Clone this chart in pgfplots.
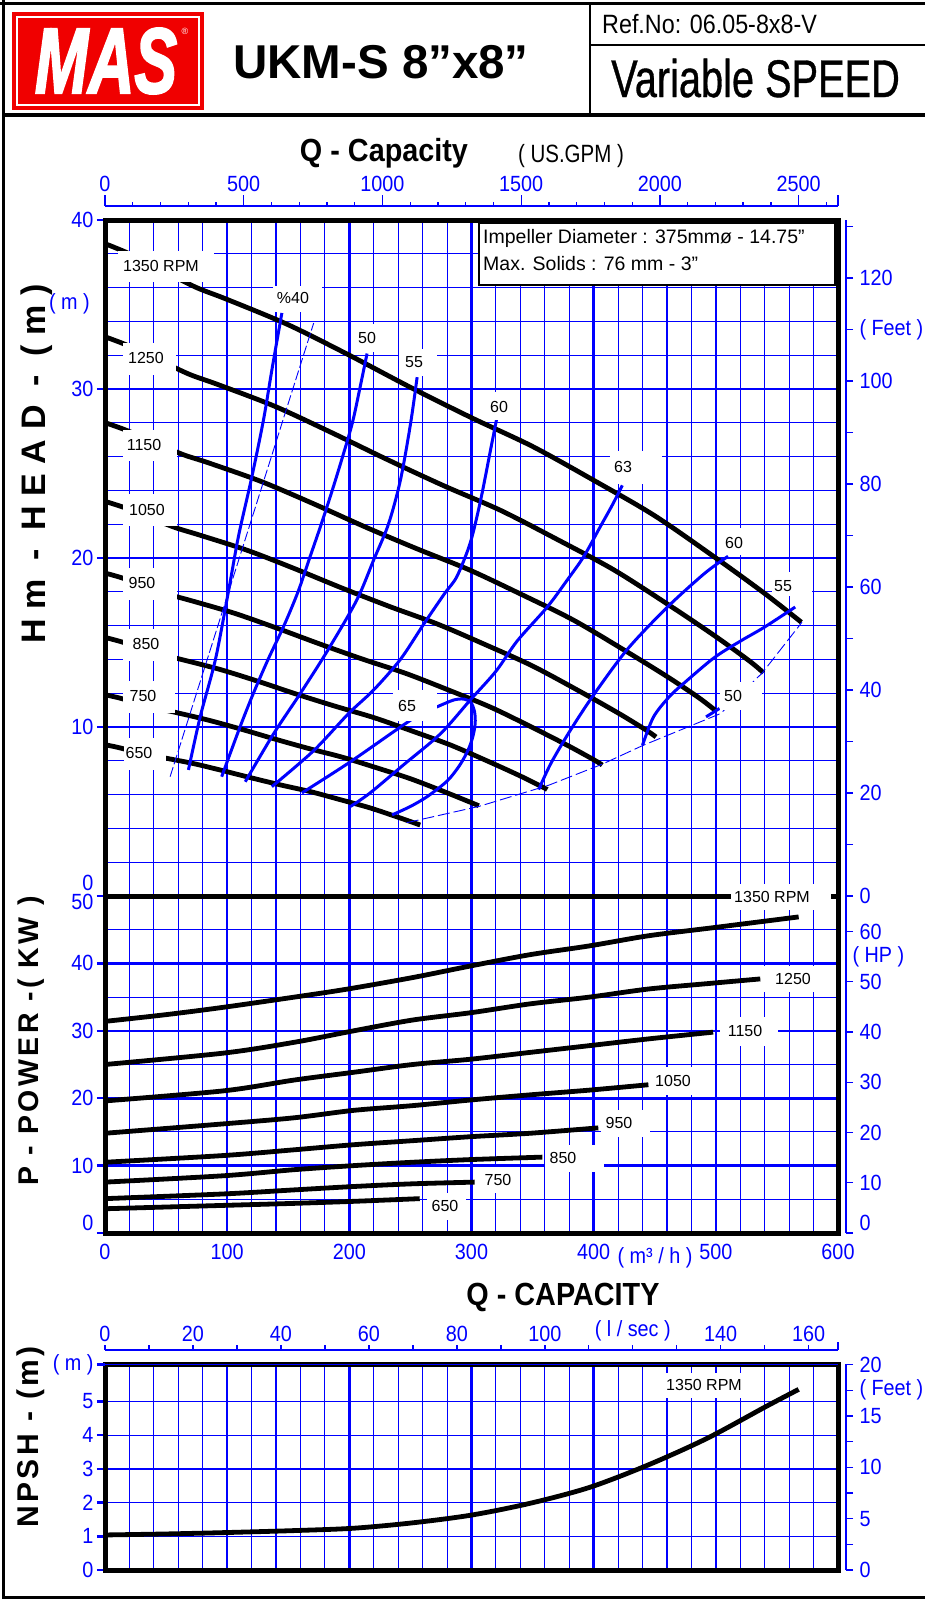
\documentclass[border=0pt]{standalone}
\usepackage{pgfplots}
\pgfplotsset{compat=1.18}
\usepackage{fontspec}
\setmainfont{Liberation Sans}
\newfontfamily\narrowfont[FakeStretch=0.82]{Liberation Sans}
\newfontfamily\tickfamily[FakeStretch=0.9]{Liberation Sans}
\newfontfamily\titlefamily[FakeStretch=0.9]{Liberation Sans}
\newfontfamily\spacedfamily[LetterSpace=12]{Liberation Sans}
\newfontfamily\widefamily[LetterSpace=28]{Liberation Sans}
\newfontfamily\logofont[FakeBold=2.5]{Liberation Sans}
\newfontfamily\heavyfont[FakeBold=0.8]{Liberation Sans}
\definecolor{gb}{RGB}{0,0,255}
\definecolor{logored}{RGB}{240,0,0}
\newcommand{\tf}{\tickfamily\fontsize{22}{24}\selectfont}
\newcommand{\lf}{\fontsize{16}{18}\selectfont}
\newcommand{\up}[2]{\raisebox{#1}[\height][\depth]{#2}}

\pgfplotsset{
  frame/.style={
    scale only axis, width=733pt, xmin=0, xmax=600, clip=false,
    xtick={0,100,...,600}, minor x tick num=4,
    xtick style={draw=none},
    grid=both,
    major x grid style={gb, line width=2.6pt},
    minor x grid style={gb, line width=1.1pt},
    major y grid style={gb, line width=2.6pt},
    minor y grid style={gb, line width=1.1pt},
    tick align=outside, ytick pos=left,
    major tick length=8pt, minor tick length=0pt,
    ytick style={gb, line width=2.4pt},
    axis line style={black, line width=5pt},
    ticklabel style={gb, font=\tf},
  },
  side/.style={
    scale only axis, width=20pt, clip=false, hide x axis,
    axis y line*=right, xmin=0, xmax=1,
    tick align=outside, major tick length=7pt, minor tick length=7pt,
    ytick style={gb, line width=1.4pt},
    axis line style={gb, line width=1.8pt},
    yticklabel style={gb, font=\tf, xshift=3pt},
  },
  topscale/.style={
    scale only axis, width=733pt, height=10pt, ymin=0, ymax=1, clip=false,
    hide y axis, axis x line*=top,
    tick align=outside,
    xtick style={gb, line width=1.4pt},
    axis line style={gb, line width=1.8pt},
    xticklabel style={gb, font=\tf},
  },
  hc/.style={black, line width=4.8pt, smooth},
  ec/.style={gb, line width=3pt, smooth},
  pc/.style={black, line width=4.8pt, smooth},
}

\begin{document}
\begin{tikzpicture}
\path[use as bounding box] (0pt,0pt) rectangle (925pt,-1599pt);
\fill[white] (0pt,0pt) rectangle (925pt,-1599pt);

% ---------- US GPM scale ----------
\begin{axis}[topscale, at={(105pt,-206pt)}, anchor=north west,
  xmin=0, xmax=2641.72,
  xtick={0,500,...,2500}, xticklabels={0,500,1000,1500,2000,2500},
  minor xtick={100,200,...,2600},
  extra x ticks={2641.72}, extra x tick labels={},
  major tick length=11pt, minor tick length=4pt]
\end{axis}

% ---------- HEAD ----------
\begin{axis}[frame, at={(105pt,-896pt)}, anchor=south west, height=676pt,
  ymin=0, ymax=40, ytick={0,10,...,40}, minor y tick num=4,
  yticklabels={\up{13pt}{0},10,20,30,40}, xticklabels={}]
\addplot[hc] coordinates {(0,38.6) (20,38.0) (50,36.9) (75,36.0) (100,35.3) (150,33.8) (200,32.0) (250,30.1) (300,28.3) (350,26.6) (400,24.6) (450,22.5) (500,20.0) (540,17.9) (570,16.2)};
\addplot[hc] coordinates {(0,33.09) (18.5,32.58) (46.3,31.64) (69.4,30.86) (92.6,30.26) (138.9,28.98) (185.2,27.43) (231.5,25.81) (277.8,24.26) (324.1,22.81) (370.4,21.09) (416.7,19.29) (463.0,17.15) (500.0,15.35) (527.8,13.89) (539,13.21)};
\addplot[hc] coordinates {(0,28.01) (17.04,27.57) (42.59,26.78) (63.89,26.12) (85.19,25.62) (127.78,24.53) (170.37,23.22) (212.96,21.84) (255.56,20.54) (298.15,19.30) (340.74,17.85) (383.33,16.33) (425.93,14.51) (460.0,12.99) (485.56,11.76) (500,10.96)};
\addplot[hc] coordinates {(0,23.35) (15.56,22.99) (38.89,22.32) (58.33,21.78) (77.78,21.35) (116.67,20.45) (155.56,19.36) (194.44,18.21) (233.33,17.12) (272.22,16.09) (311.11,14.88) (350.0,13.61) (388.89,12.10) (420.0,10.83) (443.33,9.80) (451,9.41)};
\addplot[hc] coordinates {(0,19.11) (14.07,18.82) (35.19,18.27) (52.78,17.83) (70.37,17.48) (105.56,16.74) (140.74,15.85) (175.93,14.91) (211.11,14.01) (246.30,13.17) (281.48,12.18) (316.67,11.14) (351.85,9.90) (380.0,8.86) (401.11,8.02) (407,7.75)};
\addplot[hc] coordinates {(0,15.30) (12.59,15.06) (31.48,14.63) (47.22,14.27) (62.96,13.99) (94.44,13.40) (125.93,12.69) (157.41,11.93) (188.89,11.22) (220.37,10.55) (251.85,9.75) (283.33,8.92) (314.81,7.93) (340.0,7.10) (358.89,6.42) (362,6.30)};
\addplot[hc] coordinates {(0,11.91) (11.11,11.73) (27.78,11.39) (41.67,11.11) (55.56,10.90) (83.33,10.43) (111.11,9.88) (138.89,9.29) (166.67,8.73) (194.44,8.21) (222.22,7.59) (250.0,6.94) (277.78,6.17) (300.0,5.52) (306,5.34)};
\addplot[hc] coordinates {(0,8.95) (9.63,8.81) (24.07,8.55) (36.11,8.35) (48.15,8.18) (72.22,7.84) (96.30,7.42) (120.37,6.98) (144.44,6.56) (168.52,6.17) (192.59,5.70) (216.67,5.22) (240.74,4.64) (258,4.20)};
% efficiency curves
\addplot[ec] coordinates {(68.3,7.46) (77.9,10.6) (90.4,14.0) (101,18.0) (109.3,21.3) (120.2,24.8) (129.8,28.2) (137,31.3) (144.8,34.5)};
\addplot[ec] coordinates {(95.5,7.06) (110.5,10) (121.5,12) (133.5,14) (146.5,16) (158,18) (167.5,20) (177,22) (186,24) (194.5,26) (202.5,28) (208.5,30) (214.5,32.1)};
\addplot[ec] coordinates {(114.8,6.76) (138,9.6) (160,12.0) (182,14.5) (206,17.5) (220,19.9) (232,22.0) (241.8,24.6) (250,27.9) (255.5,30.7)};
\addplot[ec] coordinates {(136.6,6.47) (170.8,8.6) (199.4,10.8) (220,12.2) (241.8,14.0) (261,16.1) (278,17.9) (288,18.9) (299,20.9) (307.4,23.4) (315.6,26.4) (320.5,28.2)};
\addplot[ec] coordinates {(201,5.3) (217,6.1) (245,7.8) (274.6,9.6) (299,11.6) (320,13.3) (337.5,15.1) (362,17.1) (378.4,18.7) (392,20.1) (405,21.8) (415,23.1) (423.5,24.3)};
\addplot[ec, tension=0.5] coordinates {(161.2,6.1) (200,7.9) (241.8,10.0) (258,10.75) (272,11.2) (285.5,11.6) (294,11.65) (299.5,11.45) (302.5,10.9) (303,10.2) (301,9.4) (297,8.6) (290,7.7) (280,6.8) (263.7,5.88) (250,5.3) (235,4.8)};
\addplot[ec] coordinates {(355,6.3) (365,7.85) (380,9.7) (399,11.8) (427.6,14.6) (460.4,17.1) (487.7,18.9) (500,19.6) (510,20.1)};
\addplot[ec] coordinates {(440,8.93) (449,10.6) (462,11.8) (474,12.6) (498.6,14.1) (520.5,15.1) (539.6,15.9) (565,17.1)};
\addplot[gb, line width=3pt] coordinates {(492,10.6) (503,11.1)};
\addplot[gb, line width=0.9pt, dash pattern=on 10pt off 3pt] coordinates {(53.3,7.06) (170.8,33.9)};
\addplot[gb, line width=0.9pt, dash pattern=on 12pt off 4pt] coordinates {(247,4.34) (306,5.3) (363,6.55) (407,7.8) (440,8.9) (504,10.8) (538,13.2) (570.5,16.2)};
\end{axis}

% feet scale (head)
\begin{axis}[side, at={(846pt,-896pt)}, anchor=south east, height=676pt,
  ymin=0, ymax=131.234, ytick={0,10,...,130},
  yticklabels={0,,20,,40,,60,,80,,100,( Feet ),120,}]
\end{axis}

% ---------- POWER ----------
\begin{axis}[frame, at={(105pt,-1233pt)}, anchor=south west, height=337pt,
  ymin=0, ymax=50, ytick={0,10,...,50}, minor y tick num=1,
  yticklabels={\up{10pt}{0},10,20,30,40,\up{-6pt}{50}},
  xticklabels={0,100,200,300,400,500,600}]
\addplot[pc] coordinates {(0,31.4) (50,32.4) (97.4,33.5) (155,35.0) (198.7,36.2) (251.8,37.9) (300,39.65) (348,41.3) (396.5,42.6) (444.8,44.1) (497.8,45.3) (567.8,46.9)};
\addplot[pc] coordinates {(0,25.0) (97.4,26.7) (155,28.3) (203.6,30.0) (251.8,31.6) (300,32.7) (348,34.0) (396.5,35.0) (444.8,36.2) (493,37.0) (536.4,37.7)};
\addplot[pc] coordinates {(0,19.6) (97.4,21.1) (155,22.7) (203.6,23.85) (251.8,25.0) (300,25.8) (348,26.8) (396.5,27.8) (444.8,28.8) (497.8,29.8)};
\addplot[pc] coordinates {(0,14.8) (97.4,16.2) (155,17.1) (203.6,18.2) (251.8,18.9) (300,19.75) (348,20.5) (396.5,21.2) (444.8,22.0)};
\addplot[pc] coordinates {(0,10.5) (97.4,11.5) (155,12.35) (203.6,13.1) (251.8,13.7) (300,14.3) (348,14.8) (403.8,15.6)};
\addplot[pc] coordinates {(0,7.55) (97.4,8.5) (155,9.4) (203.6,10.0) (251.8,10.5) (300,10.9) (358,11.26)};
\addplot[pc] coordinates {(0,5.1) (97.4,5.8) (155,6.4) (203.6,6.9) (251.8,7.3) (302.5,7.55)};
\addplot[pc] coordinates {(0,3.6) (97.4,4.1) (155,4.4) (203.6,4.7) (257.6,5.1)};
\end{axis}

% HP scale
\begin{axis}[side, at={(846pt,-1233pt)}, anchor=south east, height=337pt,
  ymin=0, ymax=67.0511, ytick={0,10,...,60},
  yticklabels={\up{10pt}{0},10,20,30,40,50,60},
  extra y ticks={55}, extra y tick labels={( HP )},
  extra y tick style={major tick length=0pt}]
\end{axis}

% ---------- l/sec scale ----------
\begin{axis}[topscale, at={(105pt,-1350pt)}, anchor=north west,
  xmin=0, xmax=166.667,
  xtick={0,20,...,160}, xticklabels={0,20,40,60,80,100,( l / sec ),140,160},
  minor xtick={10,30,...,150},
  extra x ticks={166.667}, extra x tick labels={},
  extra x tick style={major tick length=8pt},
  major tick length=5pt, minor tick length=5pt]
\end{axis}

% ---------- NPSH ----------
\begin{axis}[frame, at={(105pt,-1570pt)}, anchor=south west, height=205.6pt,
  ymin=0, ymax=6.1, ytick={0,1,...,5}, yticklabels={0,1,2,3,4,5},
  extra y ticks={6.1}, extra y tick labels={( m )},
  major y grid style={gb, line width=1.2pt},
  xticklabels={}]
\addplot[pc] coordinates {(0,1.04) (50,1.07) (97.4,1.11) (155,1.17) (203.6,1.24) (251.8,1.40) (300,1.63) (348,1.98) (396.5,2.45) (444.8,3.12) (493,3.91) (541,4.85) (567.8,5.36)};
\end{axis}

% feet scale (NPSH)
\begin{axis}[side, at={(846pt,-1570pt)}, anchor=south east, height=205.6pt,
  ymin=0, ymax=20.0131, ytick={0,2.5,...,20},
  yticklabels={0,,5,,10,,15,( Feet ),20}]
\end{axis}

% ---------- annotations ----------
\begin{scope}[x=1pt,y=-1pt]
% page frame / header
\draw[line width=3pt] (0,3) -- (925,3);
\draw[line width=3pt] (3,0) -- (3,1599);
\draw[line width=3.5pt] (3,115) -- (925,115);
\draw[line width=2pt] (590,3) -- (590,115);
\draw[line width=2pt] (590,45) -- (925,45);
\draw[line width=3pt] (3,1597) -- (925,1597);
% logo
\fill[logored] (12,12) rectangle (204,110);
\draw[white, line width=1.5pt] (17,17) rectangle (199,105);
\node[white, inner sep=0] at (106,61) {\scalebox{1}[1.45]{\logofont\fontsize{64}{64}\selectfont\bfseries\itshape MAS}};
\node[white, inner sep=0, font=\fontsize{9}{9}\selectfont] at (185,31) {®};
\node[anchor=base, inner sep=0, font=\fontsize{47.5}{48}\selectfont\bfseries] at (381,78) {UKM-S 8”x8”};
\node[anchor=base west, inner sep=0] at (602,33) {\scalebox{0.88}[1]{\fontsize{26.5}{27}\selectfont Ref.No: 06.05-8x8-V}};
\node[anchor=base west, inner sep=0] at (611,97) {\scalebox{0.75}[1]{\heavyfont\fontsize{53}{53}\selectfont Variable SPEED}};
% titles
\node[anchor=base, inner sep=0, font=\titlefamily\bfseries\fontsize{32}{32}\selectfont] at (384,161) {Q - Capacity};
\node[anchor=base, inner sep=0, font=\narrowfont\fontsize{25}{25}\selectfont] at (571,162) {( US.GPM )};
\node[anchor=base, inner sep=0, font=\titlefamily\bfseries\fontsize{32}{32}\selectfont] at (563,1305) {Q - CAPACITY};
\node[anchor=base, inner sep=0, font=\tf, text=gb] at (655,1263) {( m³ / h )};
\node[anchor=east, inner sep=0, font=\tf, text=gb] at (90,304) {( m )};
% vertical titles
\node[rotate=90, inner sep=0, font=\widefamily\bfseries\fontsize{34}{34}\selectfont] at (37,464) {Hm - HEAD - (m)};
\node[rotate=90, inner sep=0, font=\spacedfamily\bfseries\fontsize{28.5}{30}\selectfont] at (31,1041) {P - POWER -( KW )};
\node[rotate=90, inner sep=0, font=\spacedfamily\bfseries\fontsize{30}{30}\selectfont] at (31,1437) {NPSH - (m)};
% info box
\draw[fill=white, line width=1.5pt] (479,223) rectangle (835,285);
\node[anchor=base west, inner sep=0, font=\fontsize{19.5}{20}\selectfont] at (483,243) {Impeller Diameter : 375mmø - 14.75"};
\node[anchor=base west, inner sep=0, font=\fontsize{19.5}{20}\selectfont] at (483,270) {Max. Solids : 76 mm - 3"};
% head curve labels
\fill[white] (118,251) rectangle (214,282); \node[inner sep=0, font=\lf] at (161,266) {1350 RPM};
\fill[white] (123,343) rectangle (176,375); \node[inner sep=0, font=\lf] at (146,358) {1250};
\fill[white] (123,430) rectangle (177,461); \node[inner sep=0, font=\lf] at (144,445) {1150};
\fill[white] (123,494) rectangle (177,526); \node[inner sep=0, font=\lf] at (147,510) {1050};
\fill[white] (123,568) rectangle (177,600); \node[inner sep=0, font=\lf] at (142,583) {950};
\fill[white] (123,629) rectangle (177,661); \node[inner sep=0, font=\lf] at (146,644) {850};
\fill[white] (123,681) rectangle (175,713); \node[inner sep=0, font=\lf] at (143,696) {750};
\fill[white] (124,738) rectangle (166,770); \node[inner sep=0, font=\lf] at (139,753) {650};
% efficiency labels
\fill[white] (273,286) rectangle (322,312); \node[inner sep=0, font=\lf] at (293,298) {\%40};
\fill[white] (352,324) rectangle (382,352); \node[inner sep=0, font=\lf] at (367,338) {50};
\fill[white] (399,349) rectangle (437,376); \node[inner sep=0, font=\lf] at (414,362) {55};
\fill[white] (482,392) rectangle (520,420); \node[inner sep=0, font=\lf] at (499,407) {60};
\fill[white] (610,451) rectangle (662,484); \node[inner sep=0, font=\lf] at (623,467) {63};
\fill[white] (718,528) rectangle (764,555); \node[inner sep=0, font=\lf] at (734,543) {60};
\fill[white] (772,572) rectangle (812,596); \node[inner sep=0, font=\lf] at (783,586) {55};
\fill[white] (720,682) rectangle (762,710); \node[inner sep=0, font=\lf] at (733,696) {50};
\fill[white] (393,690) rectangle (437,721); \node[inner sep=0, font=\lf] at (407,706) {65};
% power labels
\fill[white] (731,884) rectangle (831,910); \node[inner sep=0, font=\lf] at (772,897) {1350 RPM};
\fill[white] (762,966) rectangle (815,992); \node[inner sep=0, font=\lf] at (793,979) {1250};
\fill[white] (720,1017) rectangle (778,1046); \node[inner sep=0, font=\lf] at (745,1031) {1150};
\fill[white] (652,1067) rectangle (712,1095); \node[inner sep=0, font=\lf] at (673,1081) {1050};
\fill[white] (601,1110) rectangle (650,1137); \node[inner sep=0, font=\lf] at (619,1123) {950};
\fill[white] (545,1145) rectangle (604,1172); \node[inner sep=0, font=\lf] at (563,1158) {850};
\fill[white] (481,1167) rectangle (520,1193); \node[inner sep=0, font=\lf] at (498,1180) {750};
\fill[white] (427,1193) rectangle (466,1220); \node[inner sep=0, font=\lf] at (445,1206) {650};
% npsh label
\fill[white] (665,1373) rectangle (745,1398); \node[inner sep=0, font=\lf] at (704,1385) {1350 RPM};
\end{scope}
\end{tikzpicture}
\end{document}
